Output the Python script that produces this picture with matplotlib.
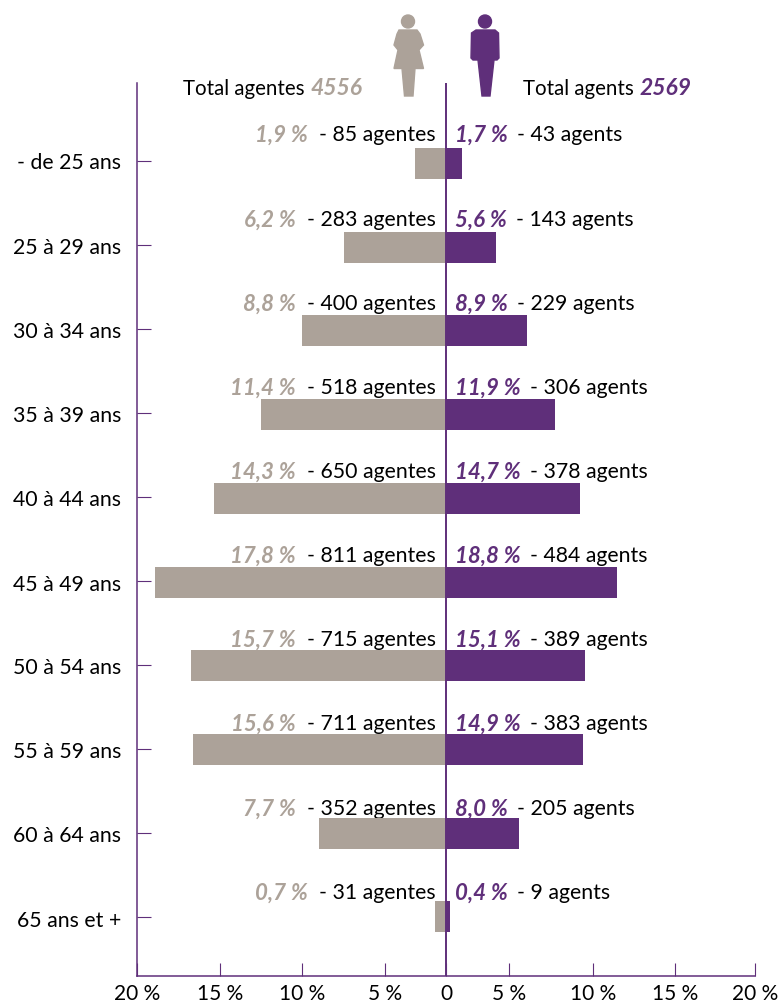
import matplotlib
matplotlib.use('Agg')
import matplotlib.pyplot as plt
from matplotlib.patches import Polygon, Ellipse

plt.rcParams['font.family'] = ['Lato', 'DejaVu Sans']

grey = '#ACA299'
purple = '#5F2F7A'

# age groups
ages = ['- de 25 ans', '25 à 29 ans', '30 à 34 ans', '35 à 39 ans', '40 à 44 ans',
        '45 à 49 ans', '50 à 54 ans', '55 à 59 ans', '60 à 64 ans', '65 ans et +']

# labels printed next to the bars
pct_f = ['1,9 %', '6,2 %', '8,8 %', '11,4 %', '14,3 %', '17,8 %', '15,7 %', '15,6 %', '7,7 %', '0,7 %']
pct_m = ['1,7 %', '5,6 %', '8,9 %', '11,9 %', '14,7 %', '18,8 %', '15,1 %', '14,9 %', '8,0 %', '0,4 %']
count_f = [85, 283, 400, 518, 650, 811, 715, 711, 352, 31]
count_m = [43, 143, 229, 306, 378, 484, 389, 383, 205, 9]

# bar lengths read on the axis (they do not follow the printed labels on the right side)
bars_f = [2.0, 6.6, 9.3, 12.0, 15.0, 18.85, 16.5, 16.4, 8.2, 0.7]
bars_m = [1.04, 3.24, 5.24, 7.05, 8.67, 11.07, 9.0, 8.87, 4.7, 0.26]

# x ticks are not evenly spaced in the original
xtick_pos = [-20, -14.65, -9.3, -3.95, 0, 4.1, 9.5, 14.85, 20]
xtick_lab = ['20 %', '15 %', '10 %', '5 %', '0', '5 %', '10 %', '15 %', '20 %']

fig = plt.figure(figsize=(7.82, 10.05), dpi=100)
ax = fig.add_axes([137 / 782, 1 - 976 / 1005, (755 - 137) / 782, (976 - 83) / 1005])
ax.set_xlim(-20, 20)
ax.set_ylim(9.707, -0.962)
ax.patch.set_alpha(0)

y = list(range(len(ages)))
ax.barh(y, [-v for v in bars_f], height=0.37, color=grey, zorder=3)
ax.barh(y, bars_m, height=0.37, color=purple, zorder=3)
ax.axvline(0, color=purple, lw=1.4, zorder=4)

for s in ['top', 'right']:
    ax.spines[s].set_visible(False)
for s in ['left', 'bottom']:
    ax.spines[s].set_color(purple)
    ax.spines[s].set_linewidth(1.1)

ax.set_xticks(xtick_pos)
ax.set_xticklabels(xtick_lab, fontsize=15, color='black')
ax.tick_params(axis='x', direction='in', length=9.5, width=0.8, color=purple, pad=5.5)
ax.set_yticks([i * 1.0036 - 0.03 for i in y])
ax.set_yticklabels([])
ax.tick_params(axis='y', direction='in', length=10, width=0.8, color=purple)

# overlay in pixel coordinates for the header and silhouettes
ov = fig.add_axes([0, 0, 1, 1], zorder=-1)
ov.set_xlim(0, 782)
ov.set_ylim(1005, 0)
ov.axis('off')

fig.canvas.draw()
rend = fig.canvas.get_renderer()
inv = ov.transData.inverted()


def left_edge(t):
    return inv.transform(t.get_window_extent(rend))[0][0]


def right_edge(t):
    return inv.transform(t.get_window_extent(rend))[1][0]


fs = 15.3
row_y = [135, 220, 304, 388, 472, 556, 640, 724, 809, 893]
age_y = [163, 248, 332, 416, 500, 585, 668, 752, 836, 921]
for i in y:
    ov.text(121, age_y[i], ages[i], ha='right', va='center', fontsize=fs)
    c = ov.text(436, row_y[i], f'- {count_f[i]} agentes', ha='right', va='center', fontsize=fs)
    ov.text(left_edge(c) - 11, row_y[i], pct_f[i], ha='right', va='center', fontsize=16,
            color=grey, fontweight='bold', style='italic')
    p = ov.text(455, row_y[i], pct_m[i], ha='left', va='center', fontsize=16,
                color=purple, fontweight='bold', style='italic')
    ov.text(right_edge(p) + 9, row_y[i], f'- {count_m[i]} agents', ha='left', va='center', fontsize=fs)

t1 = ov.text(183, 89, 'Total agentes', ha='left', va='center', fontsize=14.8)
ov.text(right_edge(t1) + 6, 88, '4556', ha='left', va='center', fontsize=16.5, color=grey,
        fontweight='bold', style='italic')
t2 = ov.text(523, 89, 'Total agents', ha='left', va='center', fontsize=14.8)
ov.text(right_edge(t2) + 6, 88, '2569', ha='left', va='center', fontsize=16.5, color=purple,
        fontweight='bold', style='italic')

# woman
ov.add_patch(Ellipse((408, 21.5), 13, 13, color=grey))
ov.add_patch(Polygon([(399, 30), (417, 30), (420, 34), (423.5, 45), (419, 50), (423.5, 68.5),
                      (415, 68.5), (413, 96), (404.5, 96), (402, 68.5), (394, 68.5),
                      (398, 50), (394, 45), (397, 34)], closed=True, color=grey))
# man
ov.add_patch(Ellipse((485, 21.5), 13, 13, color=purple))
ov.add_patch(Polygon([(476, 30), (495, 30), (498.5, 33), (499, 58), (497, 60), (494, 60),
                      (490, 96), (482, 96), (478, 60), (473, 60), (471, 58), (471.5, 33)],
                     closed=True, color=purple))

fig.savefig('out.png', dpi=100)
